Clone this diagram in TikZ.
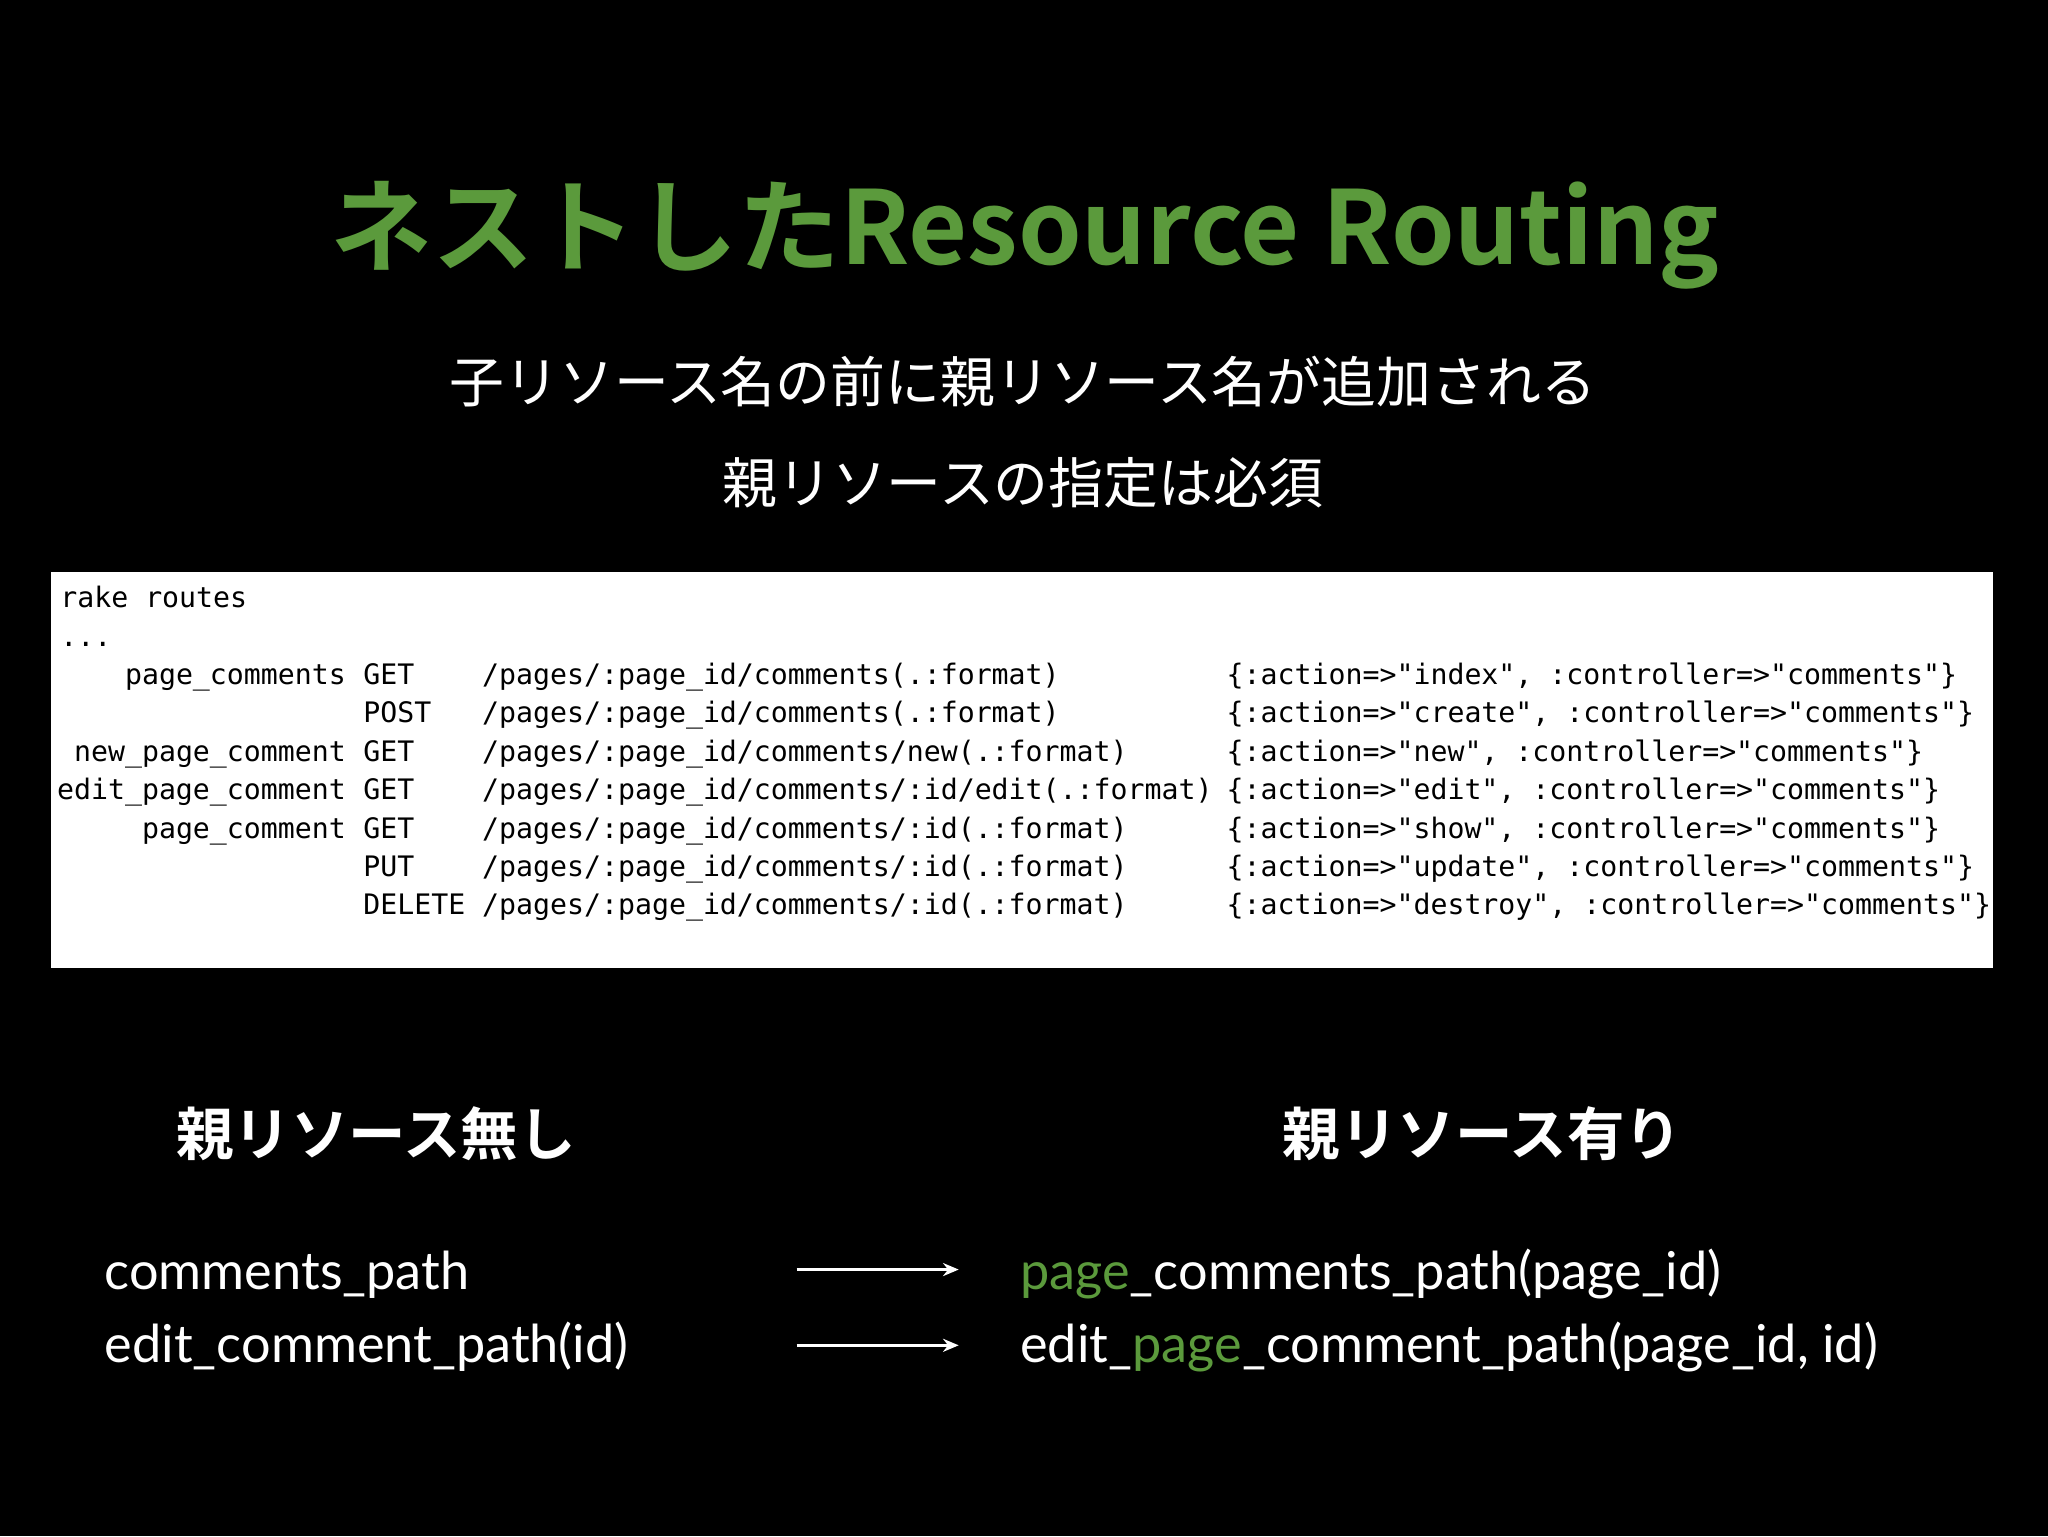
\documentclass[tikz,border=0pt]{standalone}
\usepackage{fontspec}
\usetikzlibrary{arrows.meta}
\newfontfamily\cjk{Noto Sans CJK JP}
\newfontfamily\cjkb{Noto Sans CJK JP Bold}
\newfontfamily\mono{DejaVu Sans Mono}
\newfontfamily\latin{Lato}
\definecolor{tgreen}{HTML}{5B9A3C}
\begin{document}
\begin{tikzpicture}[x=1pt,y=1pt,
  sub/.style={text=white,font=\cjk\fontsize{42}{50}\selectfont},
  head/.style={text=white,font=\cjkb\fontsize{44}{52}\selectfont},
  code/.style={text=black,font=\mono\fontsize{21.6}{26}\selectfont,inner sep=0},
  path/.style={text=white,font=\latin\fontsize{40}{48}\selectfont,anchor=base west,inner sep=0},
  arr/.style={white,line width=2.5pt,-{Stealth[length=12pt,width=10pt]}}]
\useasboundingbox (0,0) rectangle (1568,-1176);
\fill[black] (0,0) rectangle (1568,-1176);
\node[text=tgreen,font=\cjkb\fontsize{78}{90}\selectfont] (title) at (785,-180) {ネストしたResource Routing};
\node[sub] (s1) at (783,-292) {子リソース名の前に親リソース名が追加される};
\node[sub] (s2) at (783,-370) {親リソースの指定は必須};
\fill[white] (39,-438) rectangle (1526,-741);
\foreach \y/\a/\b/\c/\d in {
 -524/page\_comments/GET/{/pages/:page\_id/comments(.:format)}/{\{:action=>"index", :controller=>"comments"\}},
 -553//POST/{/pages/:page\_id/comments(.:format)}/{\{:action=>"create", :controller=>"comments"\}},
 -583/new\_page\_comment/GET/{/pages/:page\_id/comments/new(.:format)}/{\{:action=>"new", :controller=>"comments"\}},
 -612/edit\_page\_comment/GET/{/pages/:page\_id/comments/:id/edit(.:format)}/{\{:action=>"edit", :controller=>"comments"\}},
 -642/page\_comment/GET/{/pages/:page\_id/comments/:id(.:format)}/{\{:action=>"show", :controller=>"comments"\}},
 -671//PUT/{/pages/:page\_id/comments/:id(.:format)}/{\{:action=>"update", :controller=>"comments"\}},
 -700//DELETE/{/pages/:page\_id/comments/:id(.:format)}/{\{:action=>"destroy", :controller=>"comments"\}}}{
 \node[code,anchor=base east] at (265,\y) {\a};
 \node[code,anchor=base west] at (278,\y) {\b};
 \node[code,anchor=base west] at (369,\y) {\c};
 \node[code,anchor=base west] at (939,\y) {\d};
}
\node[code,anchor=base west] (rk) at (46,-465) {rake routes};
\node[code,anchor=base west] (dots) at (46,-495) {...};
\node[head] (h1) at (288,-868) {親リソース無し};
\node[head] (h2) at (1135,-868) {親リソース有り};
\node[path] (l1) at (80,-987) {comments\_path};
\node[path] (l2) at (80,-1043) {edit\_comment\_path(id)};
\node[path] (r1) at (781,-987) {\textcolor{tgreen}{page}\_comments\_path(page\_id)};
\node[path] (r2) at (781,-1043) {edit\_\textcolor{tgreen}{page}\_comment\_path(page\_id, id)};
\coordinate (a1s) at (610,-972); \coordinate (a1e) at (734,-972);
\coordinate (a2s) at (610,-1030); \coordinate (a2e) at (734,-1030);
\draw[arr] (a1s) -- (a1e);
\draw[arr] (a2s) -- (a2e);
\end{tikzpicture}
\end{document}
